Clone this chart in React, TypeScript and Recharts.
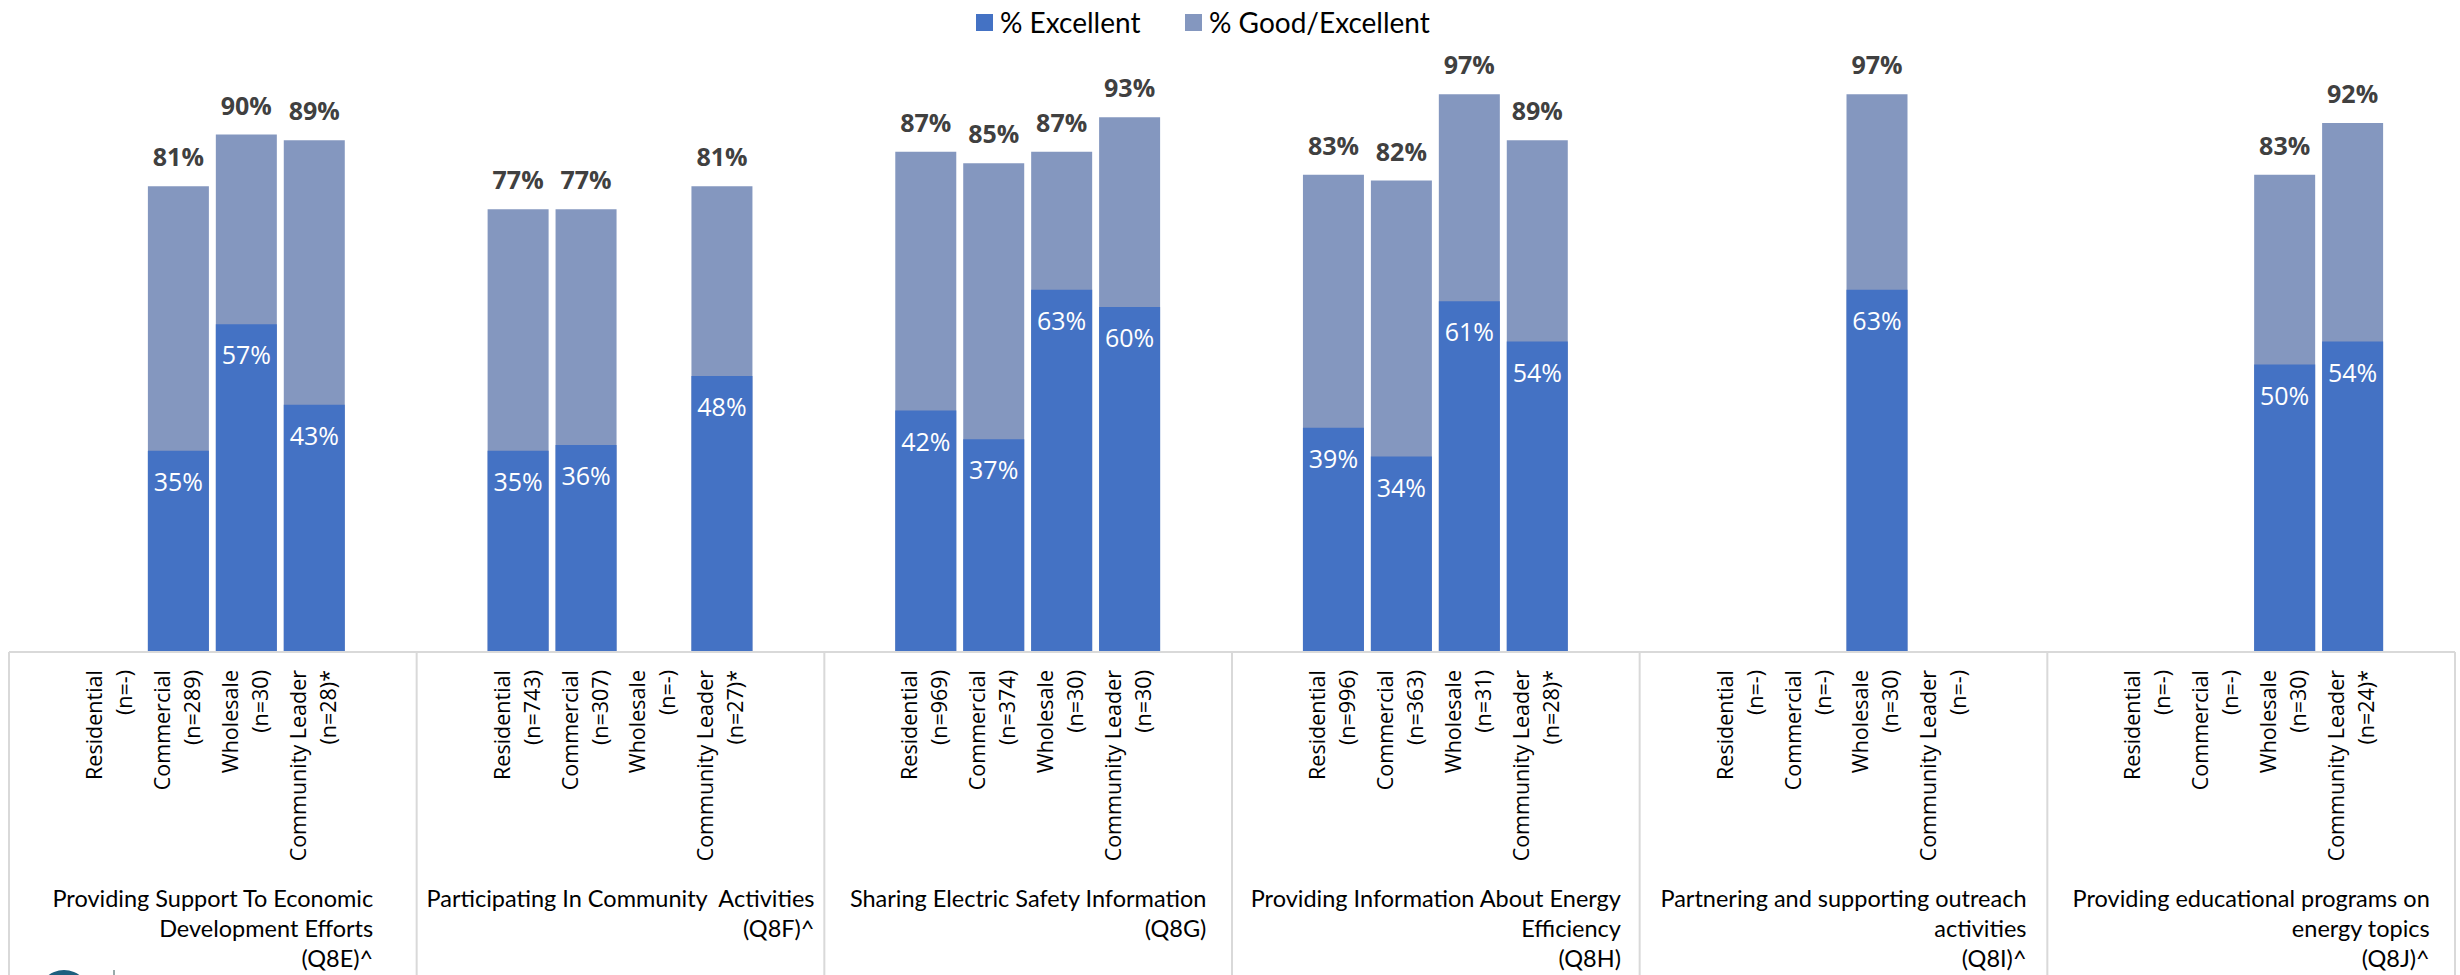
import { BarChart, Bar, XAxis, YAxis, LabelList } from 'recharts';

const EXCELLENT_COLOR = '#4472C4';
const GOOD_COLOR = '#8497BF';
const GRID_COLOR = '#D9D9D9';

const groupLabels = [
  ['Providing Support To Economic', 'Development Efforts', '(Q8E)^'],
  ['Participating In Community  Activities', '(Q8F)^'],
  ['Sharing Electric Safety Information', '(Q8G)'],
  ['Providing Information About Energy', 'Efficiency', '(Q8H)'],
  ['Partnering and supporting outreach', 'activities', '(Q8I)^'],
  ['Providing educational programs on', 'energy topics', '(Q8J)^'],
];

const segments = ['Residential', 'Commercial', 'Wholesale', 'Community Leader'];

const sampleSizes = [
  ['(n=-)', '(n=289)', '(n=30)', '(n=28)*'],
  ['(n=743)', '(n=307)', '(n=-)', '(n=27)*'],
  ['(n=969)', '(n=374)', '(n=30)', '(n=30)'],
  ['(n=996)', '(n=363)', '(n=31)', '(n=28)*'],
  ['(n=-)', '(n=-)', '(n=30)', '(n=-)'],
  ['(n=-)', '(n=-)', '(n=30)', '(n=24)*'],
];

const excellent = [
  [null, 35, 57, 43],
  [35, 36, null, 48],
  [42, 37, 63, 60],
  [39, 34, 61, 54],
  [null, null, 63, null],
  [null, null, 50, 54],
];

const goodExcellent = [
  [null, 81, 90, 89],
  [77, 77, null, 81],
  [87, 85, 87, 93],
  [83, 82, 97, 89],
  [null, null, 97, null],
  [null, null, 83, 92],
];

type Row = {
  key: string;
  group: number;
  slot: number; // 0 and 5 are padding slots
  segment?: string;
  n?: string;
  ex?: number | null;
  ge?: number | null;
};

// 6 slots per group: empty, 4 segments, empty
const rows: Row[] = [];
groupLabels.forEach((_, g) => {
  rows.push({ key: `g${g}-s0`, group: g, slot: 0 });
  segments.forEach((seg, i) => {
    rows.push({
      key: `g${g}-s${i + 1}`,
      group: g,
      slot: i + 1,
      segment: seg,
      n: sampleSizes[g][i],
      ex: excellent[g][i],
      ge: goodExcellent[g][i],
    });
  });
  rows.push({ key: `g${g}-s5`, group: g, slot: 5 });
});
const rowByKey = new Map(rows.map((r) => [r.key, r]));

const WIDTH = 2460;
const HEIGHT = 975;
const AXIS_H = 323;
const MARGIN = { top: 77, right: 5, bottom: 0, left: 9 };
const BAND = (WIDTH - MARGIN.left - MARGIN.right) / rows.length;

function AxisTick(props: any) {
  const { x, y, payload } = props;
  const row = rowByKey.get(payload.value);
  if (!row) return null;
  const left = x - BAND / 2;
  const right = x + BAND / 2;
  return (
    <g>
      {row.slot === 0 && (
        <line x1={left} x2={left} y1={y} y2={y + AXIS_H} stroke={GRID_COLOR} strokeWidth={2} />
      )}
      {row.group === groupLabels.length - 1 && row.slot === 5 && (
        <line x1={right} x2={right} y1={y} y2={y + AXIS_H} stroke={GRID_COLOR} strokeWidth={2} />
      )}
      {row.segment && (
        <g transform={`translate(${x},${y})`}>
          <text
            transform="rotate(-90)"
            textAnchor="end"
            fontFamily="'Open Sans', sans-serif"
            fontSize={21.5}
            fill="#000"
          >
            <tspan x={-18} y={-9}>{row.segment}</tspan>
            <tspan x={-18} y={21}>{row.n}</tspan>
          </text>
        </g>
      )}
      {row.slot === 5 && (
        // group title: block centred in the group, lines right-aligned
        <foreignObject x={right - BAND * 6} y={y + 231} width={BAND * 6} height={AXIS_H - 231}>
          <div style={{ display: 'flex', justifyContent: 'center' }}>
            <div
              style={{
                textAlign: 'right',
                fontFamily: 'Lato, sans-serif',
                fontSize: 23.5,
                lineHeight: '30px',
                color: '#000',
                whiteSpace: 'pre',
              }}
            >
              {groupLabels[row.group].map((line, i) => (
                <div key={i}>{line}</div>
              ))}
            </div>
          </div>
        </foreignObject>
      )}
    </g>
  );
}

function TopLabel(props: any) {
  const { x, y, width, value } = props;
  if (value == null) return null;
  return (
    <text
      x={x + width / 2}
      y={y - 20}
      textAnchor="middle"
      fontFamily="'Open Sans', sans-serif"
      fontWeight={700}
      fontSize={25}
      fill="#404040"
    >
      {`${value}%`}
    </text>
  );
}

function InnerLabel(props: any) {
  const { x, y, width, value } = props;
  if (value == null) return null;
  return (
    <text
      x={x + width / 2}
      y={y + 40}
      textAnchor="middle"
      fontFamily="'Open Sans', sans-serif"
      fontSize={25}
      fill="#FFFFFF"
    >
      {`${value}%`}
    </text>
  );
}

function LegendBox() {
  const item = (color: string, label: string, left: number) => (
    <div style={{ position: 'absolute', left, top: 4, display: 'flex', alignItems: 'center', height: 36 }}>
      <div style={{ width: 17, height: 17, background: color, marginRight: 7 }} />
      <span style={{ fontFamily: 'Lato, sans-serif', fontSize: 28, color: '#000', whiteSpace: 'nowrap' }}>{label}</span>
    </div>
  );
  return (
    <>
      {item(EXCELLENT_COLOR, '% Excellent', 976)}
      {item(GOOD_COLOR, '% Good/Excellent', 1185)}
    </>
  );
}

export default function App() {
  return (
    <div style={{ position: 'absolute', left: 0, top: 0, width: WIDTH, height: HEIGHT, background: '#fff', overflow: 'hidden' }}>
      <BarChart width={WIDTH} height={HEIGHT} data={rows} margin={MARGIN} barGap={-61}>
        <XAxis
          dataKey="key"
          interval={0}
          tickLine={false}
          tickSize={0}
          tickMargin={0}
          height={AXIS_H}
          axisLine={{ stroke: GRID_COLOR, strokeWidth: 2 }}
          tick={<AxisTick />}
        />
        <YAxis hide domain={[0, 100]} />
        <Bar dataKey="ge" name="% Good/Excellent" fill={GOOD_COLOR} barSize={61} isAnimationActive={false}>
          <LabelList dataKey="ge" content={<TopLabel />} />
        </Bar>
        <Bar dataKey="ex" name="% Excellent" fill={EXCELLENT_COLOR} barSize={61} isAnimationActive={false}>
          <LabelList dataKey="ex" content={<InnerLabel />} />
        </Bar>
      </BarChart>
      <LegendBox />
      {/* cut-off logo in the bottom-left corner */}
      <div style={{ position: 'absolute', left: 38, top: 970, width: 52, height: 52, borderRadius: '50%', background: '#1D5F7E' }} />
      <div style={{ position: 'absolute', left: 113, top: 970, width: 2, height: 5, background: '#9aa' }} />
    </div>
  );
}
